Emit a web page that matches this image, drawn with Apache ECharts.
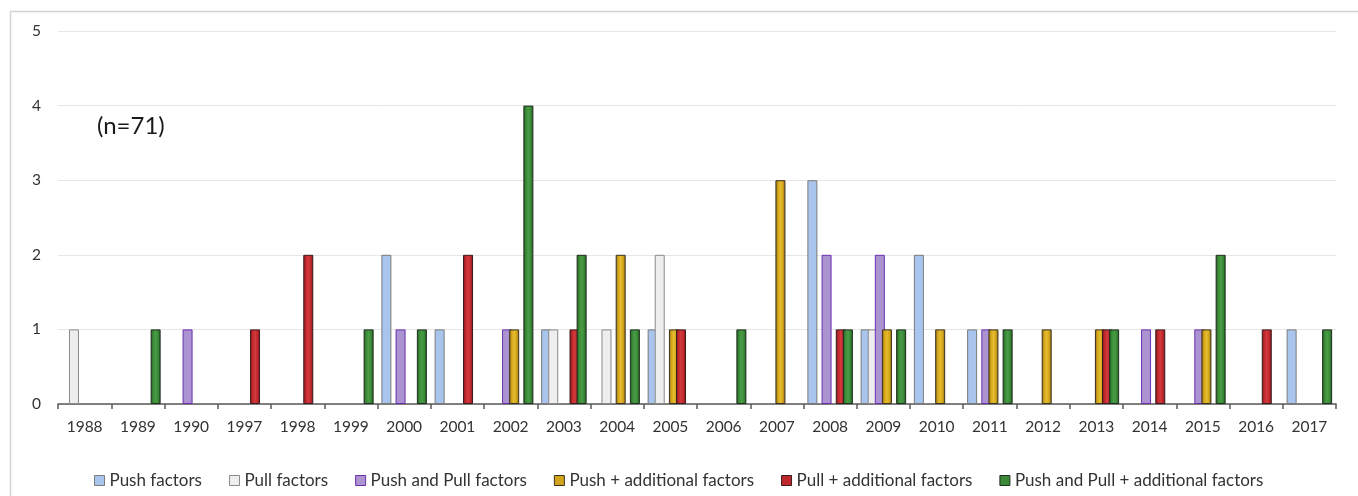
<!DOCTYPE html>
<html>
<head>
<meta charset="utf-8">
<title>Studies by year and type of factors</title>
<script src="https://cdn.jsdelivr.net/npm/echarts@6/dist/echarts.min.js"></script>
<style>
  html, body { margin: 0; padding: 0; background: #ffffff; }
  #chart { width: 1358px; height: 496px; }
</style>
</head>
<body>
<div id="chart"></div>
<script>
// Publication years (category axis)
const years = ['1988','1989','1990','1997','1998','1999','2000','2001','2002','2003','2004','2005',
               '2006','2007','2008','2009','2010','2011','2012','2013','2014','2015','2016','2017'];

// Number of studies per year, one array per factor type (null = none that year)
const pushFactors        = [null,null,null,null,null,null,2,1,null,1,null,1,null,null,3,1,2,1,null,null,null,null,null,1];
const pullFactors        = [1,null,null,null,null,null,null,null,null,1,1,2,null,null,null,1,null,null,null,null,null,null,null,null];
const pushPullFactors    = [null,null,1,null,null,null,1,null,1,null,null,null,null,null,2,2,null,1,null,null,1,1,null,null];
const pushAdditional     = [null,null,null,null,null,null,null,null,1,null,2,1,null,3,null,1,1,1,1,1,null,1,null,null];
const pullAdditional     = [null,null,null,1,2,null,null,2,null,1,null,1,null,null,1,null,null,null,null,1,1,null,1,null];
const pushPullAdditional = [null,1,null,null,null,1,1,null,4,2,1,null,1,null,1,1,null,1,null,1,null,2,null,1];

const seriesNames = ['Push factors','Pull factors','Push and Pull factors',
                     'Push + additional factors','Pull + additional factors','Push and Pull + additional factors'];
const yTicks = [0, 1, 2, 3, 4, 5];
const sampleNote = '(n=71)';

const FONT = 'Lato, "Noto Sans", sans-serif';

// Flat fill with a thin outline
function flat(fill, border) {
  return { color: fill, borderColor: border, borderWidth: 1 };
}
// Bevelled look: darker rims, brighter centre, dark outline
function bevel(edge, mid, light, border) {
  return {
    color: {
      type: 'linear', x: 0, y: 0, x2: 1, y2: 0,
      colorStops: [
        { offset: 0, color: edge },
        { offset: 0.25, color: mid },
        { offset: 0.5, color: light },
        { offset: 0.75, color: mid },
        { offset: 1, color: edge }
      ]
    },
    borderColor: border,
    borderWidth: 1
  };
}

const styles = [
  flat('#a9c5ee', '#7a7a7a'),
  flat('#eeeeee', '#8a8a8a'),
  flat('#ab93d2', '#6b2fae'),
  bevel('#8c6a0c', '#d2a41c', '#e6bd2e', '#3a3220'),
  bevel('#7e171a', '#c0272d', '#d23a3e', '#3a1c1c'),
  bevel('#1f5a1e', '#3a8a37', '#4a9c45', '#1f2d1f')
];
const legendColors = ['#a9c5ee', '#eeeeee', '#ab93d2', '#d2a41c', '#c0272d', '#3a8a37'];
const dataSets = [pushFactors, pullFactors, pushPullFactors, pushAdditional, pullAdditional, pushPullAdditional];

const chart = echarts.init(document.getElementById('chart'), null, { renderer: 'canvas' });

chart.setOption({
  animation: false,
  backgroundColor: '#ffffff',
  color: legendColors,
  title: {
    text: sampleNote,
    left: 92,
    top: 109,
    textStyle: { fontFamily: FONT, fontSize: 24, fontWeight: 'normal', color: '#1a1a1a' }
  },
  graphic: [{
    type: 'rect',
    silent: true,
    z: -1,
    shape: { x: 10.5, y: 11.5, width: 1400, height: 600 },
    style: { fill: null, stroke: '#d4d4d4', lineWidth: 1.5 }
  }],
  legend: {
    left: 89,
    top: 467,
    itemWidth: 10,
    itemHeight: 10,
    itemGap: 27,
    icon: 'rect',
    textStyle: { fontFamily: FONT, fontSize: 17, color: '#333333' },
    data: seriesNames.map((n, i) => ({
      name: n,
      itemStyle: { color: legendColors[i], borderColor: styles[i].borderColor, borderWidth: 1 }
    }))
  },
  grid: { left: 58, right: 22, top: 31, bottom: 92 },
  xAxis: {
    type: 'category',
    data: years,
    axisLine: { lineStyle: { color: '#595959', width: 1.5 } },
    axisTick: { show: true, length: 5, lineStyle: { color: '#595959', width: 1.5 } },
    axisLabel: { margin: 15, fontFamily: FONT, fontSize: 15.5, color: '#333333', interval: 0 }
  },
  yAxis: {
    type: 'value',
    min: yTicks[0],
    max: yTicks[yTicks.length - 1],
    interval: 1,
    axisLine: { show: false },
    axisTick: { show: false },
    splitLine: { lineStyle: { color: '#e6e6e6', width: 1 } },
    axisLabel: { margin: 17, fontFamily: FONT, fontSize: 15.5, color: '#333333' }
  },
  series: dataSets.map((d, i) => ({
    name: seriesNames[i],
    type: 'bar',
    data: d,
    barWidth: 10,
    barGap: '-29%',
    itemStyle: styles[i]
  }))
});
</script>
</body>
</html>
